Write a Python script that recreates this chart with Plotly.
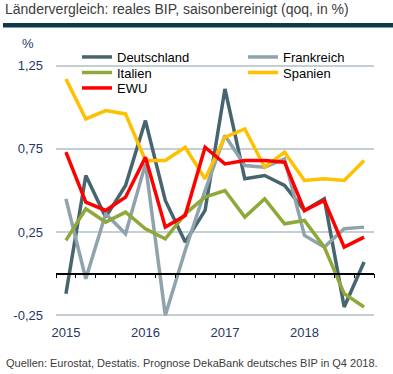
import plotly.graph_objects as go

quarters = ["Q1 2015", "Q2 2015", "Q3 2015", "Q4 2015",
            "Q1 2016", "Q2 2016", "Q3 2016", "Q4 2016",
            "Q1 2017", "Q2 2017", "Q3 2017", "Q4 2017",
            "Q1 2018", "Q2 2018", "Q3 2018", "Q4 2018"]
deutschland = [-0.12, 0.59, 0.34, 0.53, 0.92, 0.44, 0.19, 0.38, 1.11, 0.57, 0.59, 0.53, 0.38, 0.45, -0.20, 0.07]
frankreich = [0.45, -0.03, 0.36, 0.24, 0.66, -0.25, 0.14, 0.50, 0.83, 0.65, 0.64, 0.69, 0.23, 0.16, 0.27, 0.28]
italien = [0.20, 0.39, 0.31, 0.37, 0.27, 0.21, 0.36, 0.46, 0.50, 0.34, 0.45, 0.30, 0.32, 0.16, -0.12, -0.20]
spanien = [1.17, 0.93, 0.98, 0.96, 0.68, 0.68, 0.76, 0.57, 0.82, 0.87, 0.64, 0.73, 0.56, 0.57, 0.56, 0.68]
ewu = [0.73, 0.43, 0.38, 0.46, 0.70, 0.28, 0.35, 0.76, 0.66, 0.68, 0.68, 0.67, 0.38, 0.44, 0.16, 0.22]

year_ticks = ["Q1 2015", "Q1 2016", "Q1 2017", "Q1 2018"]
year_labels = ["2015", "2016", "2017", "2018"]
y_tickvals = [-0.25, 0.25, 0.75, 1.25]
y_ticktext = ["-0,25", "0,25", "0,75", "1,25"]

W, H = 393, 374
ML, MR, MT, MB = 56, 19, 64, 57
PW, PH = W - ML - MR, H - MT - MB
Y0, Y1 = -0.26, 1.26


def px_x(px):
    return (px - ML) / PW


def px_y(py):
    return (H - MB - py) / PH


xpos = list(range(len(quarters)))
series = [
    ("Deutschland", deutschland, "#47656f", "legend"),
    ("Frankreich", frankreich, "#8fa3ac", "legend2"),
    ("Italien", italien, "#8fa83a", "legend3"),
    ("Spanien", spanien, "#ffc000", "legend4"),
    ("EWU", ewu, "#ff0000", "legend5"),
]

fig = go.Figure()
for name, vals, col, lg in series:
    fig.add_trace(go.Scatter(
        x=xpos, y=vals, name=name, mode="lines",
        line=dict(color=col, width=3.5),
        legend=lg, hoverinfo="skip",
    ))

font_main = "Arial, Liberation Sans, sans-serif"
legend_pos = {
    "legend": (77, 57),
    "legend2": (243, 57),
    "legend3": (77, 72.5),
    "legend4": (243, 72.5),
    "legend5": (77, 88),
}
leg_layout = {}
for lg, (lx, ly) in legend_pos.items():
    leg_layout[lg] = dict(
        x=px_x(lx), y=px_y(ly), xanchor="left", yanchor="middle",
        bgcolor="rgba(0,0,0,0)", borderwidth=0,
        font=dict(family=font_main, size=13, color="#000000"),
        itemwidth=30,
    )

x_index = {q: i for i, q in enumerate(quarters)}
boundaries = [i - 0.5 for i in range(len(quarters) + 1)]

fig.update_layout(
    width=W, height=H,
    margin=dict(l=ML, r=MR, t=MT, b=MB),
    paper_bgcolor="white", plot_bgcolor="white",
    showlegend=True,
    **leg_layout,
    xaxis=dict(
        range=[-0.5, len(quarters) - 0.5],
        anchor="free", position=(0 - Y0) / (Y1 - Y0),
        showline=True, linecolor="#000000", linewidth=1.5,
        showgrid=False, zeroline=False,
        tickmode="array",
        tickvals=[x_index[q] for q in year_ticks],
        ticktext=year_labels,
        ticks="",
        ticklabelstandoff=47,
        tickfont=dict(family=font_main, size=13, color="#1f3864"),
        minor=dict(tickmode="array", tickvals=boundaries, ticks="outside",
                   ticklen=4, tickwidth=1, tickcolor="#000000", showgrid=False),
        fixedrange=True,
    ),
    yaxis=dict(
        range=[Y0, Y1],
        tickmode="array", tickvals=y_tickvals, ticktext=y_ticktext,
        showgrid=True, gridcolor="#c3cfd4", gridwidth=1.5,
        zeroline=False, showline=False, ticks="",
        ticklabelstandoff=12,
        tickfont=dict(family=font_main, size=13, color="#1f3864"),
        fixedrange=True,
    ),
    shapes=[dict(type="rect", xref="paper", yref="paper",
                 x0=px_x(3), x1=px_x(393), y0=px_y(27.5), y1=px_y(23),
                 fillcolor="#0b3b47", line=dict(width=0), layer="above")],
    annotations=[
        dict(text="Ländervergleich: reales BIP, saisonbereinigt (qoq, in %)",
             xref="paper", yref="paper", x=px_x(3), y=px_y(9),
             xanchor="left", yanchor="middle", showarrow=False,
             font=dict(family=font_main, size=14, color="#3c3c3c")),
        dict(text="%", xref="paper", yref="paper", x=px_x(28), y=px_y(43),
             xanchor="center", yanchor="middle", showarrow=False,
             font=dict(family=font_main, size=13, color="#1f3864")),
        dict(text="Quellen: Eurostat, Destatis. Prognose DekaBank deutsches BIP in Q4 2018.",
             xref="paper", yref="paper", x=px_x(4), y=px_y(363),
             xanchor="left", yanchor="middle", showarrow=False,
             font=dict(family=font_main, size=11, color="#3c3c3c")),
    ],
)

fig.write_html("out.html", config={"displayModeBar": False},
               post_script="document.body.style.margin='0px';document.body.style.padding='0px';")
